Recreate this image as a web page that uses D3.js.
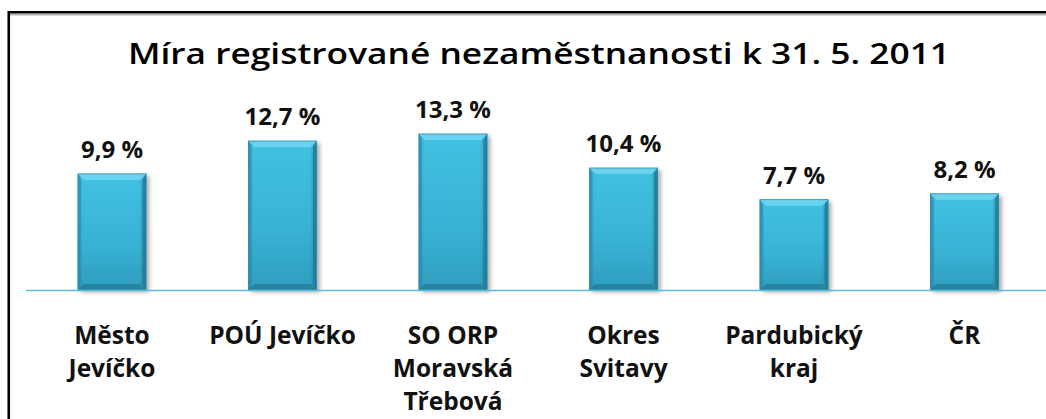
<!DOCTYPE html>
<html>
<head>
<meta charset="utf-8">
<script src="https://cdn.jsdelivr.net/npm/d3@7"></script>
<style>
  html, body { margin: 0; padding: 0; background: #fff; }
  svg { display: block; }
</style>
</head>
<body>
<script>
// Unemployment rate by area, 31 May 2011
const titleText = "Míra registrované nezaměstnanosti k 31. 5. 2011";
const categories = [
  ["Město", "Jevíčko"],
  ["POÚ Jevíčko"],
  ["SO ORP", "Moravská", "Třebová"],
  ["Okres", "Svitavy"],
  ["Pardubický", "kraj"],
  ["ČR"]
];
const values = [9.9, 12.7, 13.3, 10.4, 7.7, 8.2];
const valueLabels = ["9,9 %", "12,7 %", "13,3 %", "10,4 %", "7,7 %", "8,2 %"];

const W = 1046, H = 419;
const baseY = 290;
const fontStack = "'Open Sans', 'Noto Sans', sans-serif";

const svg = d3.select("body").append("svg")
  .attr("width", W).attr("height", H);

const defs = svg.append("defs");

// Bar body: vertical shading
const gBody = defs.append("linearGradient").attr("id", "barBody")
  .attr("x1", 0).attr("y1", 0).attr("x2", 0).attr("y2", 1);
gBody.append("stop").attr("offset", "0%").attr("stop-color", "#41c1e2");
gBody.append("stop").attr("offset", "60%").attr("stop-color", "#38b2d5");
gBody.append("stop").attr("offset", "100%").attr("stop-color", "#2f9dbe");

// Side darkening
const gSide = defs.append("linearGradient").attr("id", "barSide")
  .attr("x1", 0).attr("y1", 0).attr("x2", 1).attr("y2", 0);
gSide.append("stop").attr("offset", "0%").attr("stop-color", "#1d6f88").attr("stop-opacity", 0.5);
gSide.append("stop").attr("offset", "7%").attr("stop-color", "#1d6f88").attr("stop-opacity", 0.0);
gSide.append("stop").attr("offset", "90%").attr("stop-color", "#1d6f88").attr("stop-opacity", 0.0);
gSide.append("stop").attr("offset", "100%").attr("stop-color", "#1d6f88").attr("stop-opacity", 0.6);

// Soft drop shadow
const shadow = defs.append("filter").attr("id", "shadow")
  .attr("x", "-20%").attr("y", "-10%").attr("width", "150%").attr("height", "130%");
shadow.append("feGaussianBlur").attr("in", "SourceAlpha").attr("stdDeviation", 2.2).attr("result", "blur");
shadow.append("feOffset").attr("in", "blur").attr("dx", 3).attr("dy", 2).attr("result", "off");
shadow.append("feComponentTransfer").attr("in", "off").attr("result", "offA")
  .append("feFuncA").attr("type", "linear").attr("slope", 0.35);
const merge = shadow.append("feMerge");
merge.append("feMergeNode").attr("in", "offA");
merge.append("feMergeNode").attr("in", "SourceGraphic");

// Frame
svg.append("path")
  .attr("d", `M10,14.6 H${W + 10}`)
  .attr("stroke", "#b5b5b5").attr("stroke-width", 1.6).attr("fill", "none");
svg.append("path")
  .attr("d", `M8.75,${H + 10} V12.25 H${W + 10}`)
  .attr("stroke", "#000").attr("stroke-width", 2.6).attr("fill", "none");

// Title
svg.append("text")
  .attr("x", 539).attr("y", 64)
  .attr("text-anchor", "middle")
  .attr("font-family", fontStack)
  .attr("font-weight", 600)
  .attr("font-size", 29)
  .attr("fill", "#000")
  .attr("textLength", 822)
  .attr("lengthAdjust", "spacingAndGlyphs")
  .text(titleText);

// Scales
const x = d3.scaleBand()
  .domain(d3.range(values.length))
  .range([26.75, 1049.75])
  .paddingInner(0.6)
  .paddingOuter(0.3);

const y = d3.scaleLinear()
  .domain([0, 13.3])
  .range([baseY, 134]);

const bw = x.bandwidth();
const bevel = 6;

const bars = svg.append("g").selectAll("g.bar")
  .data(values)
  .join("g")
  .attr("class", "bar")
  .attr("transform", (d, i) => `translate(${x(i)},0)`);

bars.append("rect")
  .attr("x", 0).attr("y", d => y(d))
  .attr("width", bw).attr("height", d => baseY - y(d))
  .attr("fill", "url(#barBody)")
  .attr("filter", "url(#shadow)");

bars.append("rect")
  .attr("x", 0).attr("y", d => y(d))
  .attr("width", bw).attr("height", d => baseY - y(d))
  .attr("fill", "url(#barSide)");

// Top bevel highlight
bars.append("path")
  .attr("d", d => {
    const t = y(d);
    return `M0,${t} H${bw} L${bw - bevel},${t + bevel} H${bevel} Z`;
  })
  .attr("fill", "#6ad4f0");

// Bottom bevel shade
bars.append("path")
  .attr("d", () => `M0,${baseY} H${bw} L${bw - bevel},${baseY - bevel} H${bevel} Z`)
  .attr("fill", "#267f99").attr("opacity", 0.85);

// Side bevels
bars.append("path")
  .attr("d", d => {
    const t = y(d);
    return `M0,${t} L${bevel * 0.5},${t + bevel} V${baseY - bevel} L0,${baseY} Z`;
  })
  .attr("fill", "#2a8fae").attr("opacity", 0.6);
bars.append("path")
  .attr("d", d => {
    const t = y(d);
    return `M${bw},${t} L${bw - bevel * 0.6},${t + bevel} V${baseY - bevel} L${bw},${baseY} Z`;
  })
  .attr("fill", "#1f7690").attr("opacity", 0.7);

// Thin outline
bars.append("rect")
  .attr("x", 0).attr("y", d => y(d))
  .attr("width", bw).attr("height", d => baseY - y(d))
  .attr("fill", "none").attr("stroke", "#2a8cab").attr("stroke-width", 0.8);

// Value labels
svg.append("g").selectAll("text")
  .data(values)
  .join("text")
  .attr("x", (d, i) => x(i) + bw / 2)
  .attr("y", d => y(d) - 16)
  .attr("text-anchor", "middle")
  .attr("font-family", fontStack)
  .attr("font-weight", 700)
  .attr("font-size", 24)
  .attr("fill", "#111")
  .text((d, i) => valueLabels[i]);

// Baseline axis
svg.append("line")
  .attr("x1", 26).attr("x2", W)
  .attr("y1", baseY + 0.5).attr("y2", baseY + 0.5)
  .attr("stroke", "#5bbcd8").attr("stroke-width", 1.6);

// Category labels
const catG = svg.append("g").selectAll("text")
  .data(categories)
  .join("text")
  .attr("text-anchor", "middle")
  .attr("font-family", fontStack)
  .attr("font-weight", 700)
  .attr("font-size", 24.5)
  .attr("fill", "#111");

catG.selectAll("tspan")
  .data((d, i) => d.map(line => ({ line, i })))
  .join("tspan")
  .attr("x", d => x(d.i) + bw / 2)
  .attr("y", (d, j) => 344 + j * 33)
  .text(d => d.line);
</script>
</body>
</html>
